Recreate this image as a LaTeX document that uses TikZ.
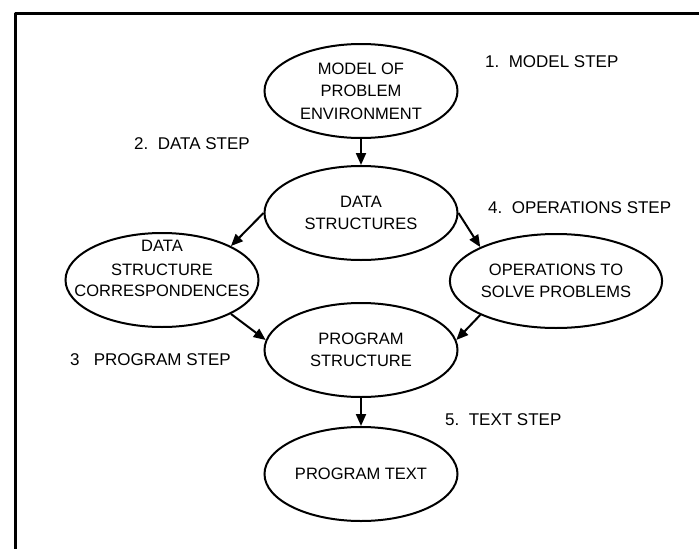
\documentclass[tikz,border=0pt]{standalone}
\usepackage{fontspec}
\setmainfont{Liberation Sans}
\usetikzlibrary{shapes.geometric,arrows.meta}

\tikzset{
  stage/.style={draw, ellipse, line width=2pt, inner sep=0pt,
    minimum width=193pt, minimum height=94pt, align=center,
    font=\fontsize{16.5}{22.5}\selectfont},
  stagetext/.style={inner sep=0pt, align=center,
    font=\fontsize{16.5}{22.5}\selectfont},
  flow/.style={line width=2pt, -{Triangle[length=12pt,width=10pt]}},
  steplabel/.style={anchor=west, inner sep=0pt,
    font=\fontsize{17}{20}\selectfont},
  frameline/.style={line width=3pt}
}

\begin{document}
\begin{tikzpicture}[x=1pt, y=-1pt]
  \useasboundingbox (0,0) rectangle (699,549);

  % open frame: top edge and left edge only
  \coordinate (fTR) at (699,13);
  \coordinate (fTL) at (15,13);
  \coordinate (fBL) at (15,549);
  \draw[frameline, line join=round] (fTR) -- (fTL) -- (fBL);

  % stages
  \node[stage] (model)   at (361,91)  {MODEL OF\\PROBLEM\\ENVIRONMENT};
  \node[stage] (data)    at (361,213) {DATA\\STRUCTURES};
  \node[stage] (dsc)     at (162,280) {};
  \node[stagetext] (dsctext) at (162,268)
       {DATA\\[2pt]STRUCTURE\\[-2pt]CORRESPONDENCES};
  \node[stage] (ops)     at (556,281) {OPERATIONS TO\\SOLVE PROBLEMS};
  \node[stage] (pstruct) at (361,350) {PROGRAM\\STRUCTURE};
  \node[stage] (ptext)   at (361,474) {PROGRAM TEXT};

  % step labels
  \node[steplabel] (s1) at (485,62)  {1.\ \ MODEL STEP};
  \node[steplabel] (s2) at (134,144) {2.\ \ DATA STEP};
  \node[steplabel] (s4) at (488,208) {4.\ \ OPERATIONS STEP};
  \node[steplabel] (s3) at (70,360)  {3\ \ \ PROGRAM STEP};
  \node[steplabel] (s5) at (445,420) {5.\ \ TEXT STEP};

  % connectors
  \draw[flow] (model.south) -- (data.north);
  \draw[flow] (data.west) -- (dsc.north east);
  \draw[flow] (data.east) -- (ops.north west);
  \draw[flow] (dsc.south east) -- (pstruct.174);
  \draw[flow] (ops.south west) -- (pstruct.6);
  \draw[flow] (pstruct.south) -- (ptext.north);
\end{tikzpicture}
\end{document}
